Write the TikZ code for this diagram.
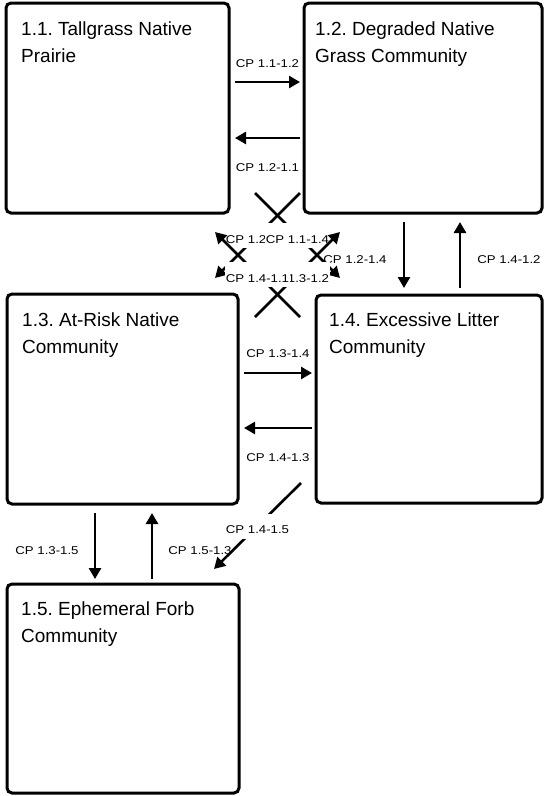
\documentclass[tikz,border=0pt]{standalone}
\usepackage{fontspec}
\setmainfont{Liberation Sans}
\newfontfamily\lblfont[FakeStretch=1.17]{Liberation Sans}
\usetikzlibrary{arrows.meta,calc}
\frenchspacing
\tikzset{
  box/.style={draw=black, line width=3pt, rounded corners=5pt, inner sep=0pt, outer sep=0pt, fill=white},
  title/.style={anchor=north west, inner sep=0pt, align=left, font=\frenchspacing\fontsize{19pt}{26.5pt}\selectfont},
  arr/.style={line width=2.6pt, -{Triangle[length=11pt,width=12pt]}},
  lbl/.style={font=\lblfont\fontsize{11.3pt}{13pt}\selectfont, inner sep=0.5pt, anchor=base},
  dlbl/.style={font=\lblfont\fontsize{11.3pt}{13pt}\selectfont, fill=white, inner xsep=0.5pt, inner ysep=2pt, text height=18pt, text depth=3pt}
}
\begin{document}
\begin{tikzpicture}[x=1pt,y=-1pt]
\useasboundingbox[fill=white] (0,0) rectangle (544,796);

% boxes
\node[box, minimum width=223pt, minimum height=210pt] (b11) at (117.5,108) {};
\node[box, minimum width=238pt, minimum height=210pt] (b12) at (423,108) {};
\node[box, minimum width=231pt, minimum height=210pt] (b13) at (122.5,399) {};
\node[box, minimum width=226pt, minimum height=208pt] (b14) at (429,399) {};
\node[box, minimum width=232pt, minimum height=209pt] (b15) at (123,688.5) {};

% titles
\node[title] (t11) at ($(b11.north west)+(15,19)$) {1.1. Tallgrass Native\\Prairie};
\node[title] (t12) at ($(b12.north west)+(11,19)$) {1.2. Degraded Native\\Grass Community};
\node[title] (t13) at ($(b13.north west)+(15,19)$) {1.3. At-Risk Native\\Community};
\node[title] (t14) at ($(b14.north west)+(13,18)$) {1.4. Excessive Litter\\Community};
\node[title] (t15) at ($(b15.north west)+(14,18)$) {1.5. Ephemeral Forb\\Community};

% horizontal arrows
\draw[arr] ($(b11.north east)+(6,79)$) -- node[lbl, yshift=15pt] (l1112) {CP 1.1-1.2} ($(b12.north west)+(-4,79)$);
\draw[arr] ($(b12.north west)+(-4,135)$) -- node[lbl, yshift=-33pt] (l1211) {CP 1.2-1.1} ($(b11.north east)+(6,135)$);
\draw[arr] ($(b13.north east)+(6,79)$) -- node[lbl, yshift=16pt] (l1314) {CP 1.3-1.4} ($(b14.north west)+(-4,78)$);
\draw[arr] ($(b14.north west)+(-4,133)$) -- node[lbl, yshift=-33pt] (l1413) {CP 1.4-1.3} ($(b13.north east)+(6,134)$);

% vertical arrows
\draw[arr] ($(b12.south west)+(100,9)$) -- node[lbl, xshift=-49pt, yshift=-8pt] (l1214) {CP 1.2-1.4} ($(b14.north west)+(88,-7)$);
\draw[arr] ($(b14.north west)+(144,-7)$) -- node[lbl, xshift=49pt, yshift=-8pt] (l1412) {CP 1.4-1.2} ($(b12.south west)+(156,9)$);
\draw[arr] ($(b13.south west)+(88,9)$) -- node[lbl, xshift=-48pt, yshift=-8pt] (l1315) {CP 1.3-1.5} ($(b15.north west)+(88,-5)$);
\draw[arr] ($(b15.north west)+(145,-5)$) -- node[lbl, xshift=48pt, yshift=-8pt] (l1513) {CP 1.5-1.3} ($(b13.south west)+(145,9)$);

% diagonal arrow 1.4 -> 1.5
\coordinate (s1415) at (301,483);
\coordinate (e1415) at (214,569);
\draw[arr] (s1415) -- node[dlbl] (l1415) {CP 1.4-1.5} (e1415);

% crossing diagonal arrows
\coordinate (sB) at (300,193); \coordinate (eB) at (215,278);
\coordinate (sA) at (255,193); \coordinate (eA) at (340,278);
\coordinate (sC) at (255,317); \coordinate (eC) at (340,232);
\coordinate (sD) at (300,317); \coordinate (eD) at (215,232);
\draw[arr] (sB) -- node[dlbl] (l1213) {CP 1.2-1.3} (eB);
\draw[arr] (sA) -- node[dlbl] (l1114) {CP 1.1-1.4} (eA);
\draw[arr] (sC) -- node[dlbl] (l1312) {CP 1.3-1.2} (eC);
\draw[arr] (sD) -- node[dlbl] (l1411) {CP 1.4-1.1} (eD);
\end{tikzpicture}
\end{document}
